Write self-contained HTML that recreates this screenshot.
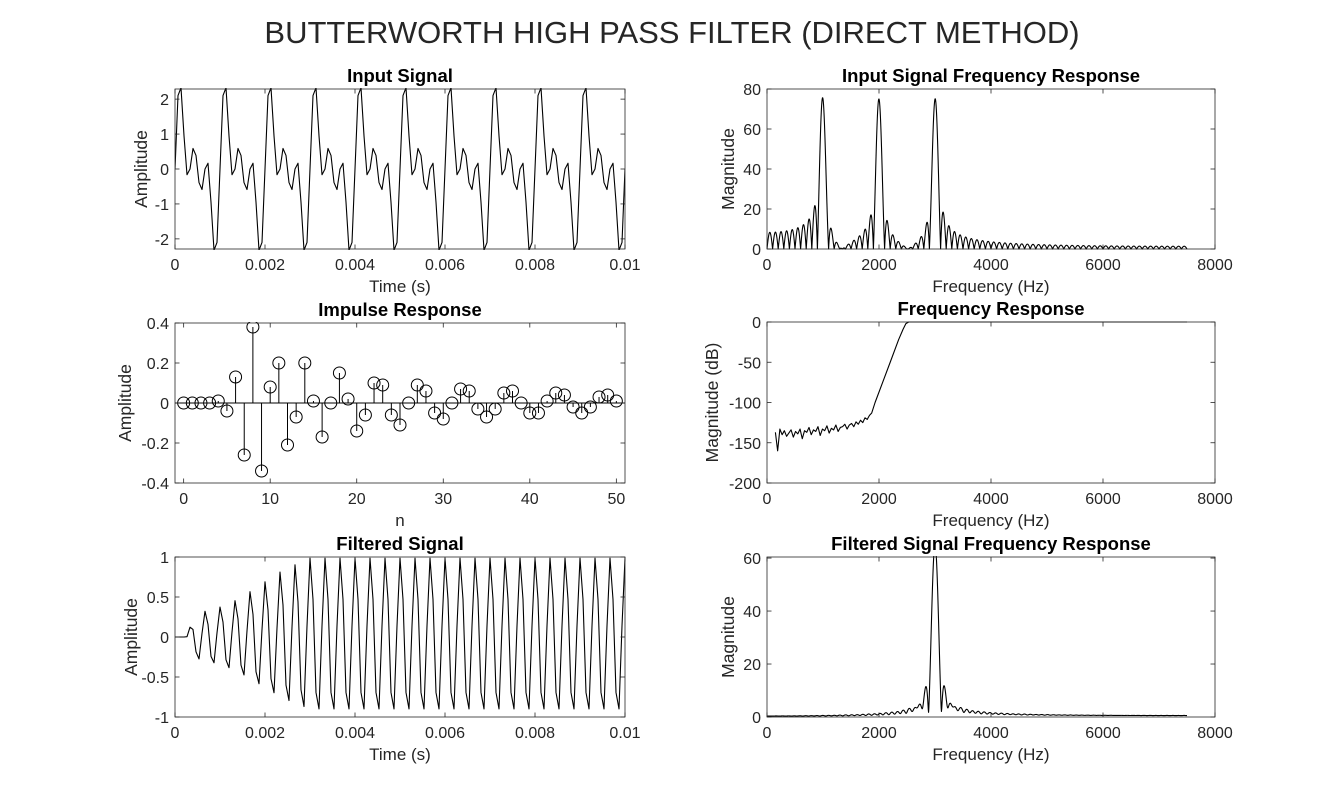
<!DOCTYPE html>
<html><head><meta charset="utf-8">
<style>
html,body{margin:0;padding:0;background:#fff;}
svg{display:block;font-family:"Liberation Sans",Arial,sans-serif;}
</style></head>
<body>
<svg id="fig" width="1344" height="808" viewBox="0 0 1344 808" xmlns="http://www.w3.org/2000/svg">
<text x="672" y="43" text-anchor="middle" font-size="31" fill="#262626">BUTTERWORTH HIGH PASS FILTER (DIRECT METHOD)</text>
</svg>
<script>
// ---- data ----
const sampleRate = 15000;
const sampleCount = 151;
const toneFreqs = [1000, 2000, 3000];
const toneAmps = [1, 1, 1];
const impulseN = [0,1,2,3,4,5,6,7,8,9,10,11,12,13,14,15,16,17,18,19,20,21,22,23,24,25,26,27,28,29,30,31,32,33,34,35,36,37,38,39,40,41,42,43,44,45,46,47,48,49,50];
const impulseVals = [0,0,0,0,0.01,-0.04,0.13,-0.26,0.38,-0.34,0.08,0.2,-0.21,-0.07,0.2,0.01,-0.17,0,0.15,0.02,-0.14,-0.06,0.1,0.09,-0.06,-0.11,0,0.09,0.06,-0.05,-0.08,0,0.07,0.06,-0.03,-0.07,-0.03,0.05,0.06,0,-0.05,-0.05,0.01,0.05,0.04,-0.02,-0.05,-0.02,0.03,0.04,0.01];
const respNoiseStart = 150, respNoiseStep = 40;
const respNoiseDb = [-137,-160,-133,-140,-135,-142,-138,-134,-143,-136,-139,-133,-145,-135,-137,-131,-140,-134,-136,-130,-141,-133,-135,-129,-138,-132,-134,-128,-136,-131,-130,-127,-133,-128,-126,-130,-124,-127,-122,-125,-119,-121,-116];
const respRollFreqs = [1870,1930,2200,2350,2430,2480,2530,7500];
const respRollDb = [-113,-100,-50,-22,-9,-2,0,0];
const filtEnvTimes = [0,0.00025,0.00035,0.0005,0.001,0.0013,0.0016,0.002,0.0024,0.0028,0.003,0.01];
const filtEnvVals = [0,0,0.15,0.3,0.38,0.45,0.55,0.7,0.85,0.95,1,1];
const filtFreq = 3000, filtPhaseDeg = 10;

const NS = "http://www.w3.org/2000/svg";
const fig = document.getElementById('fig');
function mk(tag, attrs, parent){const e=document.createElementNS(NS,tag);for(const k in attrs)e.setAttribute(k,attrs[k]);(parent||fig).appendChild(e);return e;}

const tArr=[], inputSig=[];
for(let n=0;n<sampleCount;n++){const t=n/sampleRate;tArr.push(t);let s=0;for(let k=0;k<toneFreqs.length;k++)s+=toneAmps[k]*Math.sin(2*Math.PI*toneFreqs[k]*t);inputSig.push(s);}
function envAt(t){for(let i=1;i<filtEnvTimes.length;i++){if(t<=filtEnvTimes[i]){const a=filtEnvTimes[i-1],b=filtEnvTimes[i];return filtEnvVals[i-1]+(filtEnvVals[i]-filtEnvVals[i-1])*(t-a)/(b-a);}}return filtEnvVals[filtEnvVals.length-1];}
const filtSig=tArr.map(t=>envAt(t)*Math.cos(2*Math.PI*filtFreq*t-filtPhaseDeg*Math.PI/180));
function dtft(sig){const fr=[],mag=[];for(let i=0;i<=1500;i++){const f=i*5;let re=0,im=0;for(let n=0;n<sig.length;n++){const w=2*Math.PI*f*n/sampleRate;re+=sig[n]*Math.cos(w);im-=sig[n]*Math.sin(w);}fr.push(f);mag.push(Math.hypot(re,im));}return [fr,mag];}
const [inF,inMag]=dtft(inputSig);
const [fiF,fiMag]=dtft(filtSig);
const respF=[],respDb=[];
respNoiseDb.forEach((v,i)=>{respF.push(respNoiseStart+i*respNoiseStep);respDb.push(v);});
respRollFreqs.forEach((f,i)=>{respF.push(f);respDb.push(respRollDb[i]);});

let clipId=0;
function axes(o){
  const g=mk('g',{});
  
  
  const sx=v=>o.x0+(v-o.xl[0])/(o.xl[1]-o.xl[0])*(o.x1-o.x0);
  const sy=v=>o.y1-(v-o.yl[0])/(o.yl[1]-o.yl[0])*(o.y1-o.y0);
  const cid='c'+(clipId++);
  const cp=mk('clipPath',{id:cid},g);mk('rect',{x:o.x0,y:o.y0-1,width:o.x1-o.x0,height:o.y1-o.y0+2},cp);
  const plot=mk('g',{'clip-path':'url(#'+cid+')'},g);
  o.draw(plot,sx,sy);
  const box=mk('rect',{x:o.x0,y:o.y0,width:o.x1-o.x0,height:o.y1-o.y0,fill:'none',stroke:'#262626','stroke-width':0.8},g);
  
  
  o.xt.forEach((v,i)=>{const x=sx(v);
    mk('line',{x1:x,x2:x,y1:o.y1,y2:o.y1-4.5,stroke:'#262626','stroke-width':0.8},g);
    mk('line',{x1:x,x2:x,y1:o.y0,y2:o.y0+4.5,stroke:'#262626','stroke-width':0.8},g);
    const t=mk('text',{x:x,y:o.y1+21,'text-anchor':'middle','font-size':16,fill:'#262626'},g);t.textContent=o.xtl[i];
    
    });
  o.yt.forEach((v,i)=>{const y=sy(v);
    mk('line',{x1:o.x0,x2:o.x0+4.5,y1:y,y2:y,stroke:'#262626','stroke-width':0.8},g);
    mk('line',{x1:o.x1,x2:o.x1-4.5,y1:y,y2:y,stroke:'#262626','stroke-width':0.8},g);
    const t=mk('text',{x:o.x0-6,y:y+6,'text-anchor':'end','font-size':16,fill:'#262626'},g);t.textContent=o.ytl[i];
    
    });
  const ti=mk('text',{x:(o.x0+o.x1)/2,y:o.y0-7,'text-anchor':'middle','font-size':18.5,'font-weight':'bold',fill:'#000'},g);ti.textContent=o.title;
  
  
  const xl=mk('text',{x:(o.x0+o.x1)/2,y:o.y1+43,'text-anchor':'middle','font-size':17,fill:'#262626'},g);xl.textContent=o.xlabel;
  
  
  const yx=o.x0-o.ylo, yy=(o.y0+o.y1)/2;
  const yl=mk('text',{x:yx,y:yy,'text-anchor':'middle','font-size':17.5,fill:'#262626',transform:'rotate(-90 '+yx+' '+yy+')'},g);yl.textContent=o.ylabel;
  
  
}
function line(parent,xs,ys,sx,sy,name){
  const p=mk('path',{d:xs.map((x,i)=>(i?'L':'M')+sx(x).toFixed(2)+' '+sy(ys[i]).toFixed(2)).join(''),fill:'none',stroke:'#000','stroke-width':1.1,'stroke-linejoin':'round'},parent);
  
  
}
const tX=[0,0.002,0.004,0.006,0.008,0.01], tXL=['0','0.002','0.004','0.006','0.008','0.01'];
const fX=[0,2000,4000,6000,8000], fXL=['0','2000','4000','6000','8000'];

axes({name:'input-signal-axes',x0:175,x1:625,y0:89,y1:249,xl:[0,0.01],yl:[-2.29,2.29],xt:tX,xtl:tXL,yt:[-2,-1,0,1,2],ytl:['-2','-1','0','1','2'],title:'Input Signal',xlabel:'Time (s)',ylabel:'Amplitude',ylo:28,
  draw:(p,sx,sy)=>line(p,tArr,inputSig,sx,sy,'input-signal-line')});
axes({name:'input-spectrum-axes',x0:767,x1:1215,y0:89,y1:249,xl:[0,8000],yl:[0,80],xt:fX,xtl:fXL,yt:[0,20,40,60,80],ytl:['0','20','40','60','80'],title:'Input Signal Frequency Response',xlabel:'Frequency (Hz)',ylabel:'Magnitude',ylo:33,
  draw:(p,sx,sy)=>line(p,inF,inMag,sx,sy,'input-spectrum-line')});
axes({name:'impulse-response-axes',x0:175,x1:625,y0:323,y1:483,xl:[-1,51],yl:[-0.4,0.4],xt:[0,10,20,30,40,50],xtl:['0','10','20','30','40','50'],yt:[-0.4,-0.2,0,0.2,0.4],ytl:['-0.4','-0.2','0','0.2','0.4'],title:'Impulse Response',xlabel:'n',ylabel:'Amplitude',ylo:44,
  draw:(p,sx,sy)=>{
    const b=mk('line',{x1:sx(-1),x2:sx(51),y1:sy(0),y2:sy(0),stroke:'#000','stroke-width':1},p);
    
    
    impulseN.forEach((n,i)=>{
      const s=mk('line',{x1:sx(n),x2:sx(n),y1:sy(0),y2:sy(impulseVals[i]),stroke:'#000','stroke-width':1},p);
      
      
      const c=mk('circle',{cx:sx(n),cy:sy(impulseVals[i]),r:6,fill:'none',stroke:'#000','stroke-width':1},p);
      
      
    });
  }});
axes({name:'frequency-response-axes',x0:767,x1:1215,y0:322,y1:483,xl:[0,8000],yl:[-200,0],xt:fX,xtl:fXL,yt:[-200,-150,-100,-50,0],ytl:['-200','-150','-100','-50','0'],title:'Frequency Response',xlabel:'Frequency (Hz)',ylabel:'Magnitude (dB)',ylo:49,
  draw:(p,sx,sy)=>line(p,respF,respDb,sx,sy,'frequency-response-line')});
axes({name:'filtered-signal-axes',x0:175,x1:625,y0:557,y1:717,xl:[0,0.01],yl:[-1,1],xt:tX,xtl:tXL,yt:[-1,-0.5,0,0.5,1],ytl:['-1','-0.5','0','0.5','1'],title:'Filtered Signal',xlabel:'Time (s)',ylabel:'Amplitude',ylo:38,
  draw:(p,sx,sy)=>line(p,tArr,filtSig,sx,sy,'filtered-signal-line')});
axes({name:'filtered-spectrum-axes',x0:767,x1:1215,y0:557,y1:717,xl:[0,8000],yl:[0,60.4],xt:fX,xtl:fXL,yt:[0,20,40,60],ytl:['0','20','40','60'],title:'Filtered Signal Frequency Response',xlabel:'Frequency (Hz)',ylabel:'Magnitude',ylo:33,
  draw:(p,sx,sy)=>line(p,fiF,fiMag,sx,sy,'filtered-spectrum-line')});
</script>
</body></html>
